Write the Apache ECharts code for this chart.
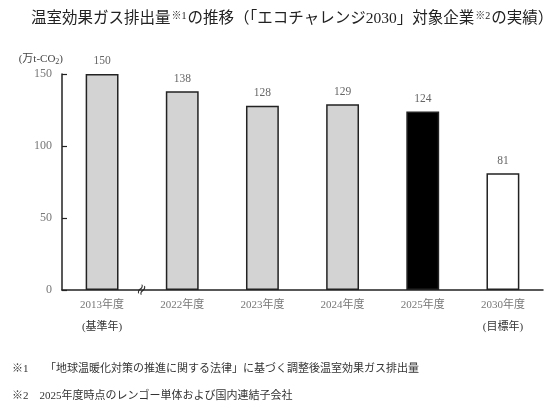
<!DOCTYPE html>
<html>
<head>
<meta charset="utf-8">
<script src="https://cdn.jsdelivr.net/npm/echarts@6/dist/echarts.min.js"></script>
<style>
  html, body { margin: 0; padding: 0; background: #fff; }
  #main { width: 560px; height: 412px; }
</style>
</head>
<body>
<div id="main"></div>
<script>
// データ
const years = ['2013年度', '2022年度', '2023年度', '2024年度', '2025年度', '2030年度']
const notes = ['(基準年)', '', '', '', '', '(目標年)']
const emissions = [150, 138, 128, 129, 124, 81]
const yTicks = [0, 50, 100, 150]

// 棒の色（基準・実績は灰、最新は黒、目標は白）
const barColors = ['#d3d3d3', '#d3d3d3', '#d3d3d3', '#d3d3d3', '#000000', '#ffffff']

const serif = "'Liberation Serif', 'DejaVu Serif', 'Noto Sans CJK JP', serif"

const chart = echarts.init(document.getElementById('main'))

chart.setOption({
  animation: false,
  backgroundColor: '#fff',
  textStyle: { fontFamily: serif },
  title: {
    text: '温室効果ガス排出量{sup|※1}の推移（「エコチャレンジ2030」対象企業{sup|※2}の実績）',
    left: 26,
    top: 6,
    textStyle: {
      fontSize: 15.5,
      fontWeight: 'normal',
      color: '#222',
      fontFamily: serif,
      rich: {
        sup: { fontSize: 10, color: '#222', verticalAlign: 'top', padding: [0, 1, 6, 1] },
      },
    },
  },
  grid: { left: 62, right: 17, top: 74, bottom: 122 },
  xAxis: {
    type: 'category',
    data: years,
    axisLine: { lineStyle: { color: '#222', width: 1.5 } },
    axisTick: { show: false },
    axisLabel: {
      margin: 4,
      formatter: (v, i) => v + '\n{n|' + notes[i] + '}',
      color: '#777',
      fontSize: 11,
      lineHeight: 22,
      rich: { n: { color: '#333', fontSize: 11, lineHeight: 22 } },
    },
  },
  yAxis: {
    type: 'value',
    min: yTicks[0],
    max: yTicks[yTicks.length - 1],
    interval: 50,
    name: '(万t-CO{sub|2})',
    nameLocation: 'end',
    nameGap: 8,
    nameTextStyle: {
      align: 'right',
      color: '#444',
      fontSize: 11,
      padding: [0, -1, 0, 0],
      rich: { sub: { fontSize: 8, color: '#444', padding: [5, 0, 0, 0] } },
    },
    axisLine: { show: true, lineStyle: { color: '#222', width: 1.5 } },
    axisTick: { show: true, inside: true, length: 5, lineStyle: { color: '#222', width: 1.2 } },
    splitLine: { show: false },
    axisLabel: { color: '#777', fontSize: 12, margin: 10 },
  },
  series: [
    {
      type: 'bar',
      barWidth: '41%',
      data: emissions.map((v, i) => ({
        value: v,
        itemStyle: { color: barColors[i] },
      })),
      itemStyle: { borderColor: '#222', borderWidth: 1.5 },
      label: {
        show: true,
        position: 'top',
        distance: 7,
        color: '#666',
        fontSize: 11.5,
      },
    },
  ],
})

// 省略記号と注記
const mid = chart.convertToPixel({ xAxisIndex: 0 }, years[0])
const next = chart.convertToPixel({ xAxisIndex: 0 }, years[1])
const base = chart.convertToPixel({ yAxisIndex: 0 }, 0)

chart.setOption({
  graphic: [
    {
      type: 'text',
      x: (mid + next) / 2,
      y: base,
      rotation: Math.PI / 3,
      style: {
        text: '≈',
        fontSize: 15,
        fill: '#333',
        align: 'center',
        verticalAlign: 'middle',
        fontFamily: 'DejaVu Sans',
      },
    },
    {
      type: 'text',
      left: 12,
      top: 364,
      style: {
        text: '※1　　「地球温暖化対策の推進に関する法律」に基づく調整後温室効果ガス排出量',
        fontSize: 11,
        fill: '#333',
        fontFamily: serif,
      },
    },
    {
      type: 'text',
      left: 12,
      top: 391,
      style: {
        text: '※2　2025年度時点のレンゴー単体および国内連結子会社',
        fontSize: 11,
        fill: '#333',
        fontFamily: serif,
      },
    },
  ],
})
</script>
</body>
</html>
